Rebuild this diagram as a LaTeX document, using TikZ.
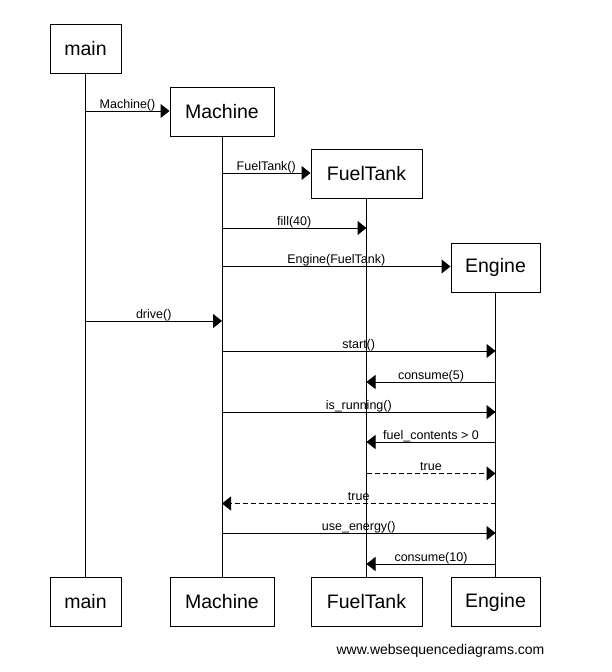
\documentclass[tikz,border=0pt]{standalone}
\usepackage{fontspec}
\setmainfont{Liberation Sans}
\usetikzlibrary{arrows.meta}
\begin{document}
\begin{tikzpicture}[x=1pt,y=-1pt,
  actor/.style={draw=black, line width=1pt, fill=white, minimum height=49pt, inner sep=0pt, font=\fontsize{19.5}{22}\selectfont},
  life/.style={draw=black, line width=1pt},
  msg/.style={draw=black, line width=1pt, -{Triangle[length=9pt,width=14pt]}},
  ret/.style={msg, dash pattern=on 5pt off 3pt},
  lbl/.style={midway, anchor=base, yshift=3pt, inner sep=0pt, font=\fontsize{12.5}{14}\selectfont}]
\useasboundingbox[fill=white] (0,0) rectangle (611,672);
% top actors
\node[actor, minimum width=71pt]  (mainT) at (85.5,48.5) {main};
\node[actor, minimum width=104pt] (machT) at (222,111.5) {Machine};
\node[actor, minimum width=111pt] (fuelT) at (366.5,174) {FuelTank};
\node[actor, minimum width=89pt]  (engT)  at (495.5,267.5) {Engine};
% bottom actors
\node[actor, minimum width=71pt]  (mainB) at (85.5,602) {main};
\node[actor, minimum width=104pt] (machB) at (222,602) {Machine};
\node[actor, minimum width=111pt] (fuelB) at (366.5,602) {FuelTank};
\node[actor, minimum width=89pt]  (engB)  at (495.5,602) {Engine};
% lifelines
\draw[life] (mainT.south) -- (mainB.north);
\draw[life] (machT.south) -- (machB.north);
\draw[life] (fuelT.south) -- (fuelB.north);
\draw[life] (engT.south) -- (engB.north);
% messages
\draw[msg] (mainT.south |- 0,111) -- (machT.west |- 0,111) node[lbl] {Machine()};
\draw[msg] (machT.south |- 0,173) -- (fuelT.west |- 0,173) node[lbl] {FuelTank()};
\draw[msg] (machT.south |- 0,228) -- (fuelT.south |- 0,228) node[lbl] {fill(40)};
\draw[msg] (machT.south |- 0,266.5) -- (engT.west |- 0,266.5) node[lbl] {Engine(FuelTank)};
\draw[msg] (mainT.south |- 0,321) -- (machT.south |- 0,321) node[lbl] {drive()};
\draw[msg] (machT.south |- 0,351) -- (engT.south |- 0,351) node[lbl] {start()};
\draw[msg] (engT.south |- 0,382) -- (fuelT.south |- 0,382) node[lbl] {consume(5)};
\draw[msg] (machT.south |- 0,412) -- (engT.south |- 0,412) node[lbl] {is\_running()};
\draw[msg] (engT.south |- 0,442) -- (fuelT.south |- 0,442) node[lbl] {fuel\_contents > 0};
\draw[ret] (fuelT.south |- 0,473.5) -- (engT.south |- 0,473.5) node[lbl] {true};
\draw[ret] (engT.south |- 0,503.5) -- (machT.south |- 0,503.5) node[lbl] {true};
\draw[msg] (machT.south |- 0,533) -- (engT.south |- 0,533) node[lbl] {use\_energy()};
\draw[msg] (engT.south |- 0,564) -- (fuelT.south |- 0,564) node[lbl] {consume(10)};
% footer
\node[inner sep=0pt, font=\fontsize{14}{16}\selectfont] (wsd) at (440.5,651) {www.websequencediagrams.com};
\end{tikzpicture}
\end{document}
